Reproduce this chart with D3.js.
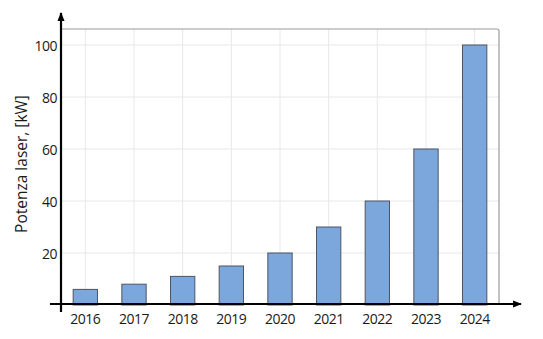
<!DOCTYPE html>
<html>
<head>
<meta charset="utf-8">
<script src="https://cdn.jsdelivr.net/npm/d3@7"></script>
<style>
  body { margin: 0; background: #fff; }
  text { font-family: "Open Sans", "Liberation Sans", sans-serif; }
</style>
</head>
<body>
<div id="chart"></div>
<script>
const years = ["2016", "2017", "2018", "2019", "2020", "2021", "2022", "2023", "2024"];
const power = [6, 8, 11, 15, 20, 30, 40, 60, 100];
const yTicks = [20, 40, 60, 80, 100];

const width = 543, height = 339;
const plotLeft = 61, plotRight = 499, plotTop = 29, plotBottom = 305;

const svg = d3.select("#chart").append("svg")
    .attr("width", width)
    .attr("height", height);

const x = d3.scaleBand()
    .domain(years)
    .range([plotLeft, plotRight])
    .paddingInner(0.5)
    .paddingOuter(0.25);

const y = d3.scaleLinear()
    .domain([0, 100])
    .range([plotBottom, 45]);

// griglia
svg.append("g").selectAll("line")
    .data(yTicks)
    .enter().append("line")
    .attr("x1", plotLeft).attr("x2", plotRight)
    .attr("y1", d => y(d)).attr("y2", d => y(d))
    .style("stroke", "#e8e8e8");

svg.append("g").selectAll("line")
    .data(years)
    .enter().append("line")
    .attr("x1", d => x(d) + x.bandwidth() / 2)
    .attr("x2", d => x(d) + x.bandwidth() / 2)
    .attr("y1", plotTop).attr("y2", plotBottom)
    .style("stroke", "#e8e8e8");

// bordo area grafico
svg.append("path")
    .attr("d", `M${plotLeft},${plotTop} H${plotRight - 2} Q${plotRight},${plotTop} ${plotRight},${plotTop + 2} V${plotBottom}`)
    .style("fill", "none")
    .style("stroke", "#9a9a9a")
    .style("stroke-width", 1.2);

// barre
svg.append("g").selectAll("rect")
    .data(years)
    .enter().append("rect")
    .attr("x", d => x(d))
    .attr("y", (d, i) => y(power[i]))
    .attr("width", x.bandwidth())
    .attr("height", (d, i) => plotBottom - y(power[i]))
    .style("fill", "#7ba7dc")
    .style("stroke", "#4d5560")
    .style("stroke-width", 1);

// assi con frecce
const defs = svg.append("defs");
defs.append("marker")
    .attr("id", "arrow")
    .attr("viewBox", "0 0 10 10")
    .attr("refX", 9).attr("refY", 5)
    .attr("markerWidth", 4).attr("markerHeight", 4)
    .attr("orient", "auto")
    .append("path")
    .attr("d", "M0,1 L10,5 L0,9 z")
    .style("fill", "#000");

svg.append("line")
    .attr("x1", plotLeft).attr("x2", plotLeft)
    .attr("y1", 312).attr("y2", 13)
    .style("stroke", "#000")
    .style("stroke-width", 2.2)
    .attr("marker-end", "url(#arrow)");

svg.append("line")
    .attr("x1", 50).attr("x2", 521)
    .attr("y1", plotBottom - 1).attr("y2", plotBottom - 1)
    .style("stroke", "#000")
    .style("stroke-width", 2.2)
    .attr("marker-end", "url(#arrow)");

// etichette
svg.append("g").selectAll("text")
    .data(yTicks)
    .enter().append("text")
    .attr("x", plotLeft - 4)
    .attr("y", d => y(d))
    .attr("text-anchor", "end")
    .attr("dominant-baseline", "central")
    .style("font-size", "14px")
    .style("letter-spacing", "-0.5px")
    .style("fill", "#1a1a1a")
    .text(d => d);

svg.append("g").selectAll("text")
    .data(years)
    .enter().append("text")
    .attr("x", d => x(d) + x.bandwidth() / 2)
    .attr("y", 318)
    .attr("text-anchor", "middle")
    .attr("dominant-baseline", "central")
    .style("font-size", "14px")
    .style("letter-spacing", "-0.5px")
    .style("fill", "#1a1a1a")
    .text(d => d);

svg.append("text")
    .attr("transform", "translate(21,164) rotate(-90)")
    .attr("text-anchor", "middle")
    .attr("dominant-baseline", "central")
    .style("font-size", "15.5px")
    .style("fill", "#1a1a1a")
    .text("Potenza laser, [kW]");
</script>
</body>
</html>
